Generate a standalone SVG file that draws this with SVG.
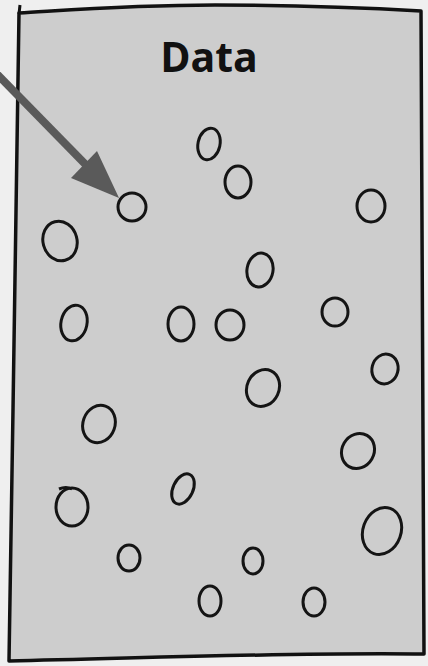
<svg xmlns="http://www.w3.org/2000/svg" width="428" height="666" viewBox="0 0 428 666">
<style>
.pt{fill:none;stroke:#141414;stroke-width:3}
.box{fill:#cdcdcd;stroke:#111;stroke-width:3.5;stroke-linejoin:round}
.lbl{font-family:"Open Sans","Liberation Sans",sans-serif;font-weight:bold;font-size:41px;fill:#111}
.arr{stroke:#5a5a5a;stroke-width:8;fill:none}
</style>
<rect x="0" y="0" width="428" height="666" fill="#efefef"/>
<g id="data">
<path class="box" d="M19,13 C70,10 130,5 215,5 C300,5 370,8 421,11 C422,200 423,450 424,654 C300,652 150,658 9,661 C12,450 17,200 19,13 Z"/>
<path d="M20,5 L19,14" stroke="#111" stroke-width="3" fill="none"/>
<text class="lbl" x="209" y="72" text-anchor="middle">Data</text>
</g>
<g id="points">
<ellipse class="pt" cx="209" cy="144" rx="11" ry="16" transform="rotate(12 209 144)"/>
<ellipse class="pt" cx="238" cy="182" rx="13" ry="16"/>
<ellipse class="pt" cx="132" cy="207" rx="14" ry="14"/>
<ellipse class="pt" cx="371" cy="206" rx="14" ry="16"/>
<ellipse class="pt" cx="60" cy="241" rx="17" ry="20" transform="rotate(-15 60 241)"/>
<ellipse class="pt" cx="260" cy="270" rx="13" ry="17" transform="rotate(10 260 270)"/>
<ellipse class="pt" cx="74" cy="323" rx="13" ry="18" transform="rotate(12 74 323)"/>
<ellipse class="pt" cx="181" cy="324" rx="13" ry="17"/>
<ellipse class="pt" cx="230" cy="325" rx="14" ry="15"/>
<ellipse class="pt" cx="335" cy="312" rx="13" ry="14"/>
<ellipse class="pt" cx="385" cy="369" rx="13" ry="15" transform="rotate(15 385 369)"/>
<ellipse class="pt" cx="263" cy="388" rx="16" ry="19" transform="rotate(25 263 388)"/>
<ellipse class="pt" cx="99" cy="424" rx="16" ry="19" transform="rotate(20 99 424)"/>
<ellipse class="pt" cx="358" cy="451" rx="16" ry="18" transform="rotate(30 358 451)"/>
<ellipse class="pt" cx="183" cy="489" rx="10" ry="16" transform="rotate(25 183 489)"/>
<ellipse class="pt" cx="72" cy="507" rx="16" ry="19"/>
<path class="pt" d="M59,489 Q66,486 72,489"/>
<ellipse class="pt" cx="382" cy="531" rx="19" ry="24" transform="rotate(20 382 531)"/>
<ellipse class="pt" cx="129" cy="558" rx="11" ry="13"/>
<ellipse class="pt" cx="253" cy="561" rx="10" ry="13"/>
<ellipse class="pt" cx="210" cy="601" rx="11" ry="15"/>
<ellipse class="pt" cx="314" cy="602" rx="11" ry="14"/>
</g>
<g id="connectors">
<line class="arr" x1="-5" y1="72" x2="88" y2="167"/>
<polygon points="119,198 71,178 97,151" fill="#5a5a5a"/>
</g>
</svg>
